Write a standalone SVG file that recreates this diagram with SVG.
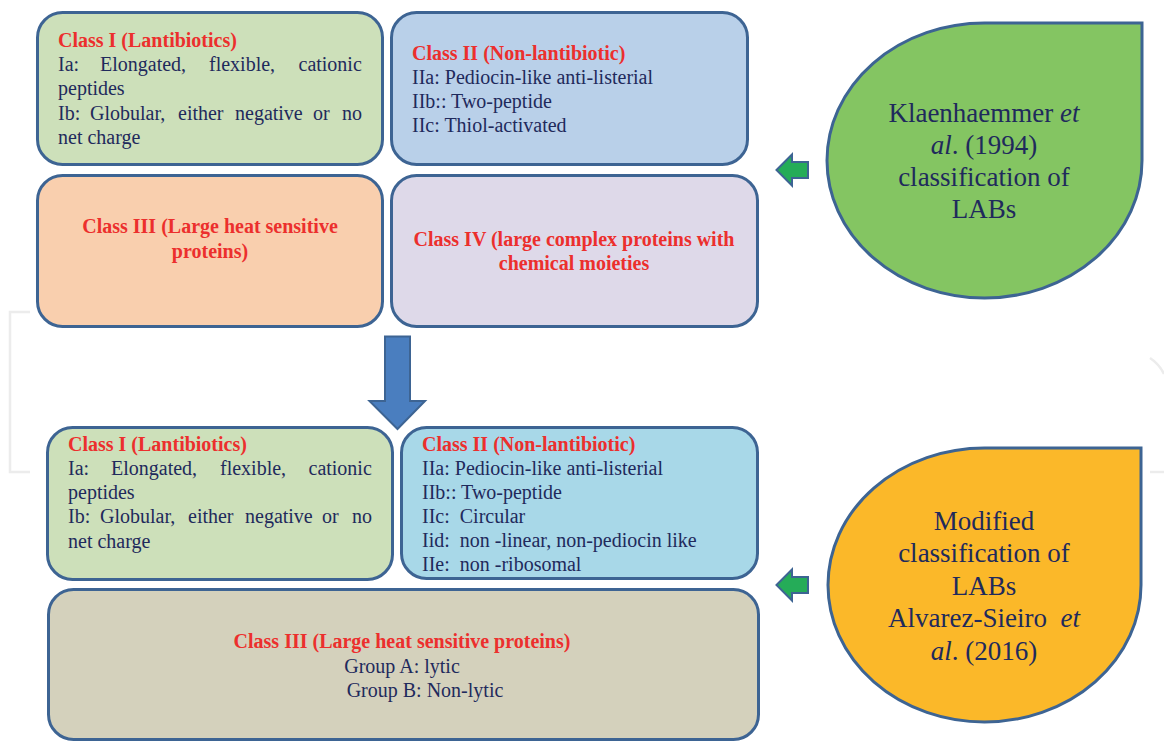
<svg xmlns="http://www.w3.org/2000/svg" width="1164" height="741" viewBox="0 0 1164 741">
<style>
.box{stroke:#3d6493;stroke-width:3}
.t{font-family:"Liberation Serif","Times New Roman",serif;font-size:20px;fill:#1f2a5c}
.h{font-family:"Liberation Serif","Times New Roman",serif;font-size:20px;font-weight:bold;fill:#ec2f2d}
.big{font-family:"Liberation Serif","Times New Roman",serif;font-size:27px;fill:#1f2a5c;text-anchor:middle}
.c{text-anchor:middle}
.wm{fill:none;stroke:#ececec;stroke-width:2.5}
.sm{fill:#25ac58;stroke:#3d6493;stroke-width:2}
</style>
<rect width="1164" height="741" fill="#ffffff"/>
<g id="watermark">
<path class="wm" d="M30,312 H10 V472 H30"/>
<path class="wm" d="M1150,358 A40,40 0 0 1 1164,374"/>
<path class="wm" d="M1150,472 H1164"/>
</g>
<g id="top-class1">
<rect class="box" x="37.5" y="12.5" width="345" height="152" rx="25" fill="#cde0ba"/>
<text class="h" x="58" y="47">Class I (Lantibiotics)</text>
<text class="t" y="71"><tspan x="58">Ia:</tspan><tspan x="100">Elongated,</tspan><tspan x="209">flexible,</tspan><tspan x="298.5">cationic</tspan></text>
<text class="t" x="58" y="95">peptides</text>
<text class="t" y="120"><tspan x="58">Ib:</tspan><tspan x="90">Globular,</tspan><tspan x="178">either</tspan><tspan x="235">negative</tspan><tspan x="313">or</tspan><tspan x="342">no</tspan></text>
<text class="t" x="58" y="144">net charge</text>
</g>
<g id="top-class2">
<rect class="box" x="391.5" y="12.5" width="356" height="152" rx="25" fill="#b9d0e9"/>
<text class="h" x="412" y="60">Class II (Non-lantibiotic)</text>
<text class="t" x="412" y="84">IIa: Pediocin-like anti-listerial</text>
<text class="t" x="412" y="108">IIb:: Two-peptide</text>
<text class="t" x="412" y="132">IIc: Thiol-activated</text>
</g>
<g id="top-class3">
<rect class="box" x="37.5" y="175.5" width="345" height="151" rx="25" fill="#f9cfae"/>
<text class="h c" x="210" y="233">Class III (Large heat sensitive</text>
<text class="h c" x="210" y="258">proteins)</text>
</g>
<g id="top-class4">
<rect class="box" x="391.5" y="175.5" width="366" height="151" rx="25" fill="#ded9e9"/>
<text class="h c" x="574" y="246">Class IV (large complex proteins with</text>
<text class="h c" x="574" y="270">chemical moieties</text>
</g>
<g id="klaenhaemmer">
<path d="M984.5,23 H1142 V160.5 A157.5,137.5 0 0 1 984.5,298 A157.5,137.5 0 0 1 827,160.5 A157.5,137.5 0 0 1 984.5,23 Z" fill="#84c562" stroke="#3d6493" stroke-width="3"/>
<text class="big" x="984" y="122">Klaenhaemmer <tspan font-style="italic">et</tspan></text>
<text class="big" x="984" y="154"><tspan font-style="italic">al</tspan>. (1994)</text>
<text class="big" x="984" y="186">classification of</text>
<text class="big" x="984" y="218">LABs</text>
</g>
<g id="bottom-class1">
<rect class="box" x="47.5" y="427.5" width="345" height="152" rx="25" fill="#cde0ba"/>
<text class="h" x="68" y="451">Class I (Lantibiotics)</text>
<text class="t" y="475"><tspan x="68">Ia:</tspan><tspan x="111">Elongated,</tspan><tspan x="220">flexible,</tspan><tspan x="308.5">cationic</tspan></text>
<text class="t" x="68" y="499">peptides</text>
<text class="t" y="523"><tspan x="68">Ib:</tspan><tspan x="100">Globular,</tspan><tspan x="188">either</tspan><tspan x="245">negative</tspan><tspan x="322">or</tspan><tspan x="352">no</tspan></text>
<text class="t" x="68" y="548">net charge</text>
</g>
<g id="bottom-class2">
<rect class="box" x="401.5" y="427.5" width="356" height="151" rx="25" fill="#a8d8e8"/>
<text class="h" x="422" y="451">Class II (Non-lantibiotic)</text>
<text class="t" x="422" y="475">IIa: Pediocin-like anti-listerial</text>
<text class="t" x="422" y="499">IIb:: Two-peptide</text>
<text class="t" x="422" y="523" xml:space="preserve">IIc:  Circular</text>
<text class="t" x="422" y="547" xml:space="preserve">Iid:  non -linear, non-pediocin like</text>
<text class="t" x="422" y="571" xml:space="preserve">IIe:  non -ribosomal</text>
</g>
<g id="bottom-class3">
<rect class="box" x="48.5" y="589.5" width="710" height="150" rx="25" fill="#d4d1bc"/>
<text class="h c" x="402" y="648">Class III (Large heat sensitive proteins)</text>
<text class="t c" x="402" y="673">Group A: lytic</text>
<text class="t c" x="425" y="697">Group B: Non-lytic</text>
</g>
<g id="alvarez">
<path d="M984.5,448 H1141 V585 A156.5,137 0 0 1 984.5,722 A156.5,137 0 0 1 828,585 A156.5,137 0 0 1 984.5,448 Z" fill="#fbb829" stroke="#3d6493" stroke-width="3"/>
<text class="big" x="984" y="530">Modified</text>
<text class="big" x="984" y="562">classification of</text>
<text class="big" x="984" y="595">LABs</text>
<text class="big" x="984" y="627" xml:space="preserve">Alvarez-Sieiro  <tspan font-style="italic">et</tspan></text>
<text class="big" x="984" y="660"><tspan font-style="italic">al</tspan>. (2016)</text>
</g>
<g id="connectors">
<path d="M385,336.5 H410 V401 H425 L397.5,429 L369.5,401 H385 Z" fill="#4a7ebf" stroke="#3d6493" stroke-width="2"/>
<path class="sm" d="M776.5,170 L792,154.5 V162 H808 V178 H792 V185.5 Z"/>
<path class="sm" d="M776.5,585 L792,569.5 V577 H808 V593 H792 V600.5 Z"/>
</g>
</svg>
